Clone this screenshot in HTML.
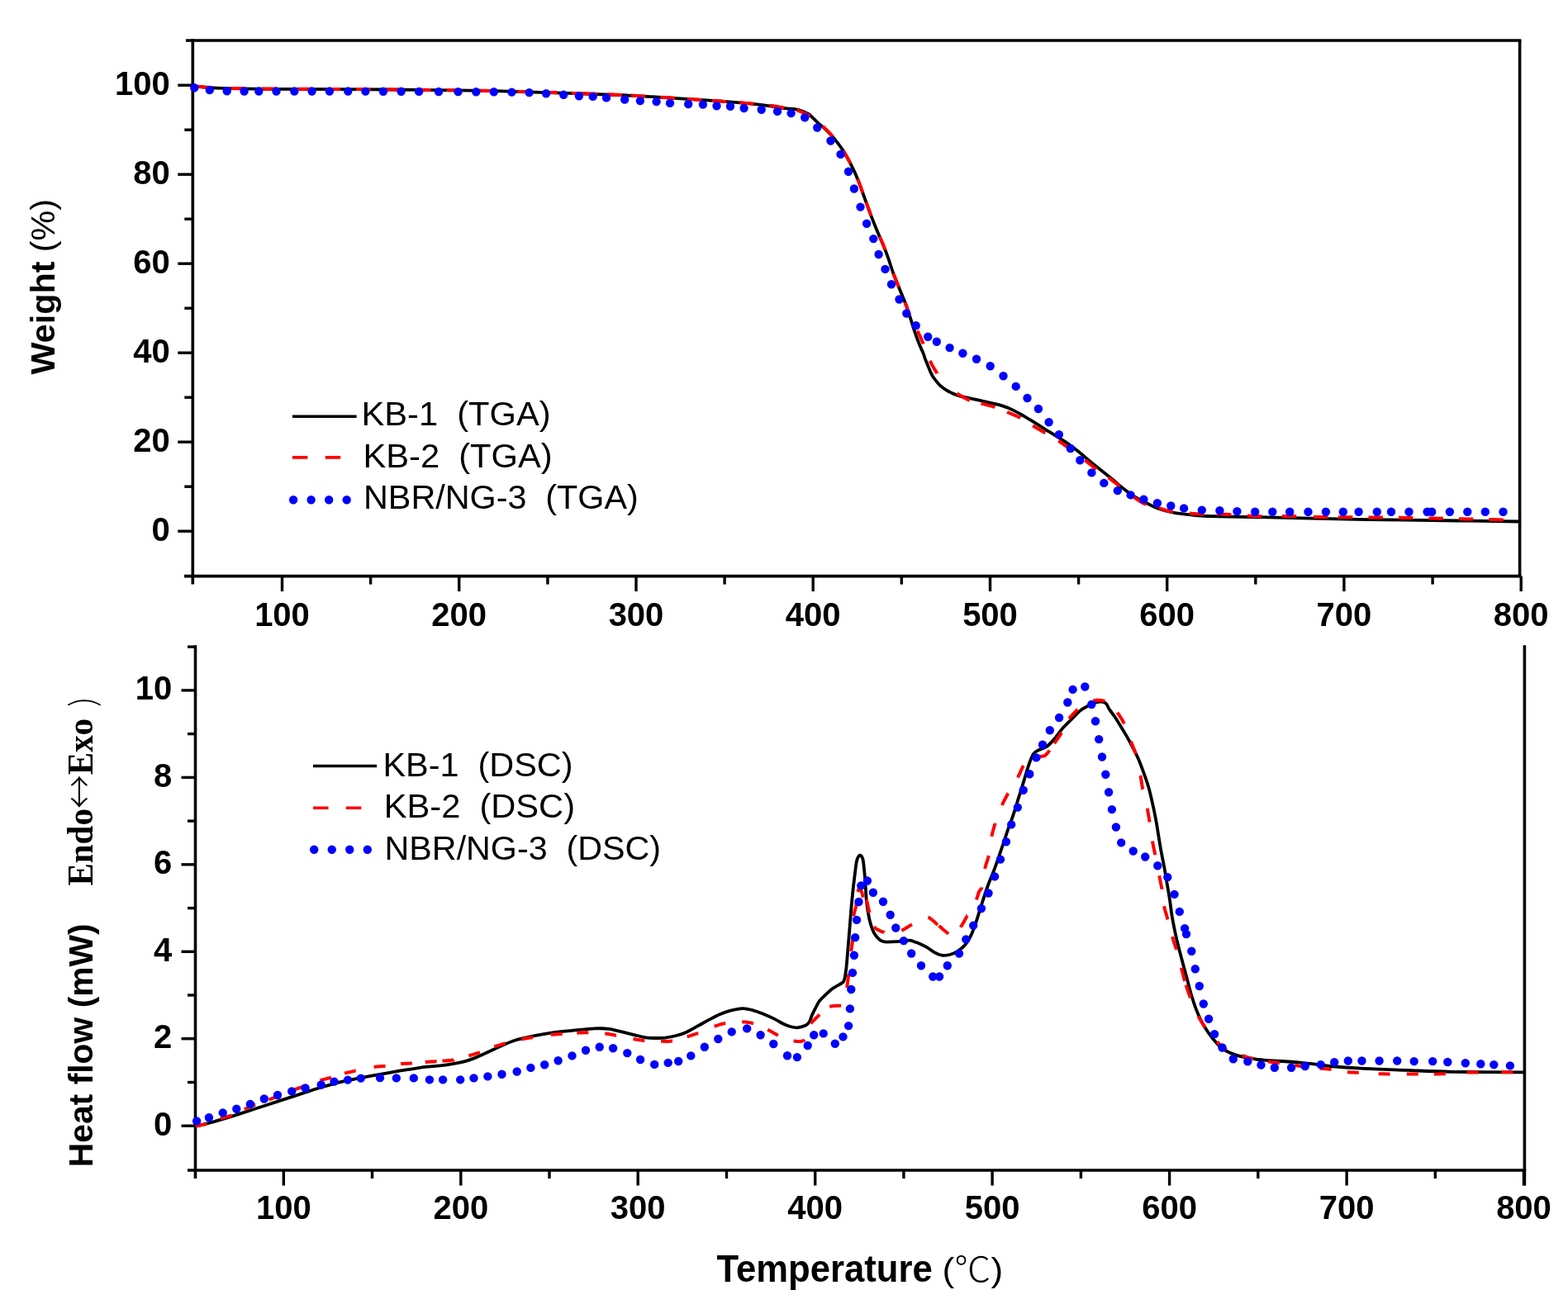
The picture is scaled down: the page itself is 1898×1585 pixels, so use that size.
<!DOCTYPE html>
<html><head><meta charset="utf-8"><title>TGA / DSC</title>
<style>html,body{margin:0;padding:0;background:#fff;}svg{display:block;}</style>
</head><body>
<svg width="1898" height="1585" viewBox="0 0 1898 1585">
<rect width="1898" height="1585" fill="#fff"/>
<line x1="233.3" y1="47.2" x2="233.3" y2="707.6" stroke="#000" stroke-width="3.6"/>
<line x1="225.0" y1="49.0" x2="1841.4" y2="49.0" stroke="#000" stroke-width="3.6"/>
<line x1="1839.6" y1="49.0" x2="1839.6" y2="697.6" stroke="#000" stroke-width="3.6"/>
<line x1="223.0" y1="697.6" x2="1841.4" y2="697.6" stroke="#000" stroke-width="3.6"/>
<line x1="341.5" y1="697.6" x2="341.5" y2="716.1" stroke="#000" stroke-width="3.4"/>
<line x1="555.7" y1="697.6" x2="555.7" y2="716.1" stroke="#000" stroke-width="3.4"/>
<line x1="770.0" y1="697.6" x2="770.0" y2="716.1" stroke="#000" stroke-width="3.4"/>
<line x1="984.2" y1="697.6" x2="984.2" y2="716.1" stroke="#000" stroke-width="3.4"/>
<line x1="1198.5" y1="697.6" x2="1198.5" y2="716.1" stroke="#000" stroke-width="3.4"/>
<line x1="1412.7" y1="697.6" x2="1412.7" y2="716.1" stroke="#000" stroke-width="3.4"/>
<line x1="1626.9" y1="697.6" x2="1626.9" y2="716.1" stroke="#000" stroke-width="3.4"/>
<line x1="1841.2" y1="697.6" x2="1841.2" y2="716.1" stroke="#000" stroke-width="3.4"/>
<line x1="448.6" y1="697.6" x2="448.6" y2="707.6" stroke="#000" stroke-width="3.4"/>
<line x1="662.9" y1="697.6" x2="662.9" y2="707.6" stroke="#000" stroke-width="3.4"/>
<line x1="877.1" y1="697.6" x2="877.1" y2="707.6" stroke="#000" stroke-width="3.4"/>
<line x1="1091.3" y1="697.6" x2="1091.3" y2="707.6" stroke="#000" stroke-width="3.4"/>
<line x1="1305.6" y1="697.6" x2="1305.6" y2="707.6" stroke="#000" stroke-width="3.4"/>
<line x1="1519.8" y1="697.6" x2="1519.8" y2="707.6" stroke="#000" stroke-width="3.4"/>
<line x1="1734.1" y1="697.6" x2="1734.1" y2="707.6" stroke="#000" stroke-width="3.4"/>
<line x1="215.3" y1="643.2" x2="233.3" y2="643.2" stroke="#000" stroke-width="3.4"/>
<line x1="215.3" y1="535.2" x2="233.3" y2="535.2" stroke="#000" stroke-width="3.4"/>
<line x1="215.3" y1="427.2" x2="233.3" y2="427.2" stroke="#000" stroke-width="3.4"/>
<line x1="215.3" y1="319.2" x2="233.3" y2="319.2" stroke="#000" stroke-width="3.4"/>
<line x1="215.3" y1="211.2" x2="233.3" y2="211.2" stroke="#000" stroke-width="3.4"/>
<line x1="215.3" y1="103.2" x2="233.3" y2="103.2" stroke="#000" stroke-width="3.4"/>
<line x1="223.3" y1="589.2" x2="233.3" y2="589.2" stroke="#000" stroke-width="3.4"/>
<line x1="223.3" y1="481.2" x2="233.3" y2="481.2" stroke="#000" stroke-width="3.4"/>
<line x1="223.3" y1="373.2" x2="233.3" y2="373.2" stroke="#000" stroke-width="3.4"/>
<line x1="223.3" y1="265.2" x2="233.3" y2="265.2" stroke="#000" stroke-width="3.4"/>
<line x1="223.3" y1="157.2" x2="233.3" y2="157.2" stroke="#000" stroke-width="3.4"/>
<line x1="236.5" y1="781.2" x2="236.5" y2="1427.0" stroke="#000" stroke-width="3.6"/>
<line x1="1845.4" y1="781.2" x2="1845.4" y2="1435.5" stroke="#000" stroke-width="3.6"/>
<line x1="227.0" y1="1417.0" x2="1847.2" y2="1417.0" stroke="#000" stroke-width="3.6"/>
<line x1="343.3" y1="1417.0" x2="343.3" y2="1435.5" stroke="#000" stroke-width="3.4"/>
<line x1="557.8" y1="1417.0" x2="557.8" y2="1435.5" stroke="#000" stroke-width="3.4"/>
<line x1="772.2" y1="1417.0" x2="772.2" y2="1435.5" stroke="#000" stroke-width="3.4"/>
<line x1="986.7" y1="1417.0" x2="986.7" y2="1435.5" stroke="#000" stroke-width="3.4"/>
<line x1="1201.1" y1="1417.0" x2="1201.1" y2="1435.5" stroke="#000" stroke-width="3.4"/>
<line x1="1415.6" y1="1417.0" x2="1415.6" y2="1435.5" stroke="#000" stroke-width="3.4"/>
<line x1="1630.1" y1="1417.0" x2="1630.1" y2="1435.5" stroke="#000" stroke-width="3.4"/>
<line x1="1844.5" y1="1417.0" x2="1844.5" y2="1435.5" stroke="#000" stroke-width="3.4"/>
<line x1="450.5" y1="1417.0" x2="450.5" y2="1427.0" stroke="#000" stroke-width="3.4"/>
<line x1="665.0" y1="1417.0" x2="665.0" y2="1427.0" stroke="#000" stroke-width="3.4"/>
<line x1="879.5" y1="1417.0" x2="879.5" y2="1427.0" stroke="#000" stroke-width="3.4"/>
<line x1="1093.9" y1="1417.0" x2="1093.9" y2="1427.0" stroke="#000" stroke-width="3.4"/>
<line x1="1308.4" y1="1417.0" x2="1308.4" y2="1427.0" stroke="#000" stroke-width="3.4"/>
<line x1="1522.8" y1="1417.0" x2="1522.8" y2="1427.0" stroke="#000" stroke-width="3.4"/>
<line x1="1737.3" y1="1417.0" x2="1737.3" y2="1427.0" stroke="#000" stroke-width="3.4"/>
<line x1="219.5" y1="1363.2" x2="236.5" y2="1363.2" stroke="#000" stroke-width="3.4"/>
<line x1="219.5" y1="1257.7" x2="236.5" y2="1257.7" stroke="#000" stroke-width="3.4"/>
<line x1="219.5" y1="1152.3" x2="236.5" y2="1152.3" stroke="#000" stroke-width="3.4"/>
<line x1="219.5" y1="1046.8" x2="236.5" y2="1046.8" stroke="#000" stroke-width="3.4"/>
<line x1="219.5" y1="941.4" x2="236.5" y2="941.4" stroke="#000" stroke-width="3.4"/>
<line x1="219.5" y1="835.9" x2="236.5" y2="835.9" stroke="#000" stroke-width="3.4"/>
<line x1="227.0" y1="1310.5" x2="236.5" y2="1310.5" stroke="#000" stroke-width="3.4"/>
<line x1="227.0" y1="1205.0" x2="236.5" y2="1205.0" stroke="#000" stroke-width="3.4"/>
<line x1="227.0" y1="1099.6" x2="236.5" y2="1099.6" stroke="#000" stroke-width="3.4"/>
<line x1="227.0" y1="994.1" x2="236.5" y2="994.1" stroke="#000" stroke-width="3.4"/>
<line x1="227.0" y1="888.6" x2="236.5" y2="888.6" stroke="#000" stroke-width="3.4"/>
<line x1="227.0" y1="783.2" x2="236.5" y2="783.2" stroke="#000" stroke-width="3.4"/>
<path d="M233.5 104.6 C234.3 104.6 232.4 104.4 238.5 104.8 C244.6 105.2 252.4 106.4 270.0 106.9 C287.6 107.4 317.7 107.7 344.0 107.9 C370.3 108.1 397.0 107.9 428.0 108.1 C459.0 108.3 501.3 108.8 530.0 109.1 C558.7 109.4 575.0 109.6 600.0 110.2 C625.0 110.8 655.4 111.8 680.0 112.6 C704.6 113.4 729.2 114.2 747.5 115.0 C765.8 115.8 776.0 116.4 790.0 117.2 C804.0 118.0 815.2 118.8 831.8 119.9 C848.4 121.0 874.4 122.6 889.6 123.8 C904.8 125.0 914.4 126.2 922.8 127.2 C931.2 128.2 935.4 128.9 940.0 129.6 C944.6 130.3 946.5 130.8 950.2 131.2 C953.9 131.6 958.7 131.6 962.1 132.2 C965.5 132.8 968.1 133.5 970.9 134.5 C973.7 135.5 976.7 136.8 978.9 138.2 C981.1 139.6 982.2 141.2 984.2 143.0 C986.2 144.8 988.6 147.3 990.8 149.3 C993.0 151.3 995.2 152.9 997.4 154.9 C999.6 156.9 1002.2 159.6 1004.0 161.4 C1005.8 163.2 1005.4 162.4 1008.0 165.6 C1010.6 168.8 1015.8 175.2 1019.4 180.6 C1023.0 186.0 1026.3 192.1 1029.5 198.2 C1032.7 204.3 1035.6 210.6 1038.3 217.2 C1041.0 223.8 1043.4 231.0 1045.9 237.9 C1048.4 244.8 1051.0 252.2 1053.5 258.8 C1056.0 265.4 1058.3 271.1 1061.0 277.7 C1063.7 284.3 1067.5 292.9 1069.9 298.7 C1072.3 304.5 1073.3 307.1 1075.2 312.6 C1077.1 318.1 1079.2 325.2 1081.5 331.5 C1083.8 337.8 1086.6 344.2 1089.1 350.5 C1091.6 356.8 1094.4 363.1 1096.7 369.4 C1099.0 375.7 1101.4 383.4 1103.0 388.3 C1104.6 393.2 1105.1 395.5 1106.3 399.0 C1107.5 402.5 1108.8 406.2 1110.0 409.5 C1111.2 412.8 1112.5 416.0 1113.7 419.0 C1115.0 422.0 1116.4 424.9 1117.5 427.6 C1118.6 430.3 1119.1 432.6 1120.1 435.1 C1121.0 437.6 1122.2 440.2 1123.2 442.7 C1124.2 445.2 1125.2 447.9 1126.2 450.1 C1127.2 452.3 1128.0 454.0 1129.2 455.9 C1130.4 457.8 1131.9 459.7 1133.4 461.6 C1134.9 463.5 1136.4 465.4 1138.3 467.1 C1140.2 468.8 1142.4 470.4 1144.7 471.9 C1147.0 473.4 1150.1 474.9 1152.3 476.0 C1154.5 477.1 1155.9 477.6 1158.0 478.3 C1160.1 479.0 1160.9 479.4 1165.0 480.4 C1169.1 481.4 1176.7 482.9 1182.5 484.2 C1188.3 485.5 1194.9 486.9 1200.0 488.1 C1205.1 489.3 1208.8 490.0 1213.2 491.4 C1217.6 492.8 1221.9 494.5 1226.3 496.6 C1230.7 498.7 1235.1 501.4 1239.5 503.9 C1243.9 506.4 1248.3 509.1 1252.7 511.8 C1257.1 514.5 1261.5 517.5 1265.9 520.3 C1270.3 523.0 1274.6 525.5 1279.0 528.3 C1283.4 531.0 1287.8 533.7 1292.2 536.8 C1296.6 539.9 1301.0 543.2 1305.4 546.7 C1309.8 550.2 1314.1 554.3 1318.5 557.9 C1322.9 561.5 1327.3 564.9 1331.7 568.4 C1336.1 571.9 1340.5 575.4 1344.9 579.0 C1349.3 582.6 1353.7 586.7 1358.1 590.2 C1362.5 593.7 1366.8 597.1 1371.2 600.0 C1375.6 602.9 1380.0 605.0 1384.4 607.3 C1388.8 609.6 1393.2 612.0 1397.6 613.9 C1402.0 615.8 1406.3 617.3 1410.7 618.5 C1415.1 619.7 1419.5 620.6 1423.9 621.3 C1428.3 622.0 1430.9 622.2 1437.1 622.8 C1443.3 623.4 1443.0 624.4 1461.0 625.0 C1479.0 625.6 1516.8 626.0 1545.0 626.6 C1573.2 627.2 1604.2 628.2 1630.0 628.7 C1655.8 629.2 1665.2 629.1 1700.0 629.6 C1734.8 630.1 1815.8 631.2 1839.0 631.5" fill="none" stroke="#000" stroke-width="3.8" stroke-linecap="butt" stroke-linejoin="round"/>
<path d="M239.3 104.7L240.1 104.7L240.9 104.8L241.7 104.9L242.6 104.9L243.5 105.0L244.5 105.1L245.5 105.2L246.5 105.3L247.6 105.4L248.7 105.5L249.9 105.6L251.2 105.7L252.5 105.8L253.9 105.9L255.4 106.0L256.7 106.1 M279.8 106.9L282.5 107.0L285.3 107.0L288.2 107.1L291.1 107.1L294.2 107.2L297.3 107.2 M317.0 107.5L320.4 107.5L323.8 107.5L327.2 107.6L330.6 107.6L334.0 107.6L334.5 107.6 M360.5 107.8L363.9 107.8L367.2 107.8L370.6 107.8L374.0 107.8L377.4 107.8L378.0 107.8 M394.7 107.9L398.3 107.9L401.9 107.9L405.5 107.9L409.2 107.9L412.2 107.9 M431.2 108.0L431.9 108.0L436.0 108.1L440.1 108.1L444.3 108.1L448.6 108.2L448.7 108.2 M467.7 108.3L470.8 108.4L475.4 108.4L479.9 108.5L484.4 108.5L485.2 108.5 M504.2 108.7L506.3 108.7L510.5 108.8L514.6 108.8L518.7 108.9L521.7 108.9 M540.7 109.1L543.4 109.2L546.5 109.2L549.5 109.2L552.5 109.3L555.3 109.3L558.2 109.4L558.2 109.4 M577.2 109.6L579.8 109.7L582.5 109.7L585.3 109.8L588.1 109.8L591.0 109.9L593.9 110.0L594.7 110.0 M626.4 110.8L629.8 110.9L633.3 111.0L636.7 111.1L640.2 111.2L643.6 111.3L643.9 111.3 M657.3 111.7L660.6 111.8L664.0 111.9L667.3 112.0L670.5 112.1L673.7 112.2L674.8 112.2 M691.8 112.8L694.6 112.9L697.4 112.9L700.1 113.0L702.8 113.1L705.5 113.2L705.5 113.2 M705.5 113.2L708.2 113.3L710.8 113.4L713.5 113.4L716.1 113.5L718.8 113.6L721.5 113.7L723.0 113.8 M735.4 114.3L738.3 114.4L741.3 114.5L744.4 114.7L747.5 114.8L750.7 115.0L752.9 115.1 M764.0 115.6L767.4 115.8L770.9 116.0L774.4 116.2L777.9 116.4L781.4 116.6L781.4 116.6 M799.5 117.7L803.1 117.9L806.7 118.1L810.3 118.3L814.0 118.5L816.9 118.7 M831.8 119.7L835.4 119.9L839.0 120.2L842.7 120.4L846.4 120.7L849.3 120.9 M861.7 121.8L865.6 122.0L869.4 122.3L873.3 122.6L877.0 122.9L879.2 123.0 M895.1 124.2L898.5 124.5L901.7 124.8L904.9 125.0L907.9 125.3L910.7 125.5L912.6 125.7 M931.7 127.7L933.2 127.9L934.6 128.1L936.0 128.3L937.2 128.5L938.5 128.7L939.6 128.8L940.7 129.0L941.8 129.2L942.9 129.4L943.9 129.6L944.9 129.7L945.9 129.9L946.9 130.1L947.9 130.3L949.0 130.4L949.0 130.4 M964.5 133.5L965.1 133.7L965.8 133.9L966.4 134.1L967.1 134.3L967.7 134.6L968.4 134.8L969.0 135.1L969.7 135.3L970.3 135.6L971.0 135.8L971.6 136.1L972.3 136.4L972.9 136.7L973.5 137.0L974.2 137.3L974.8 137.6L975.4 137.9L976.1 138.2L976.7 138.6L977.3 138.9L977.9 139.2L978.5 139.6L979.1 139.9L979.7 140.2L980.3 140.6L980.5 140.7 M995.8 152.7L996.3 153.2L996.8 153.7L997.4 154.2L997.9 154.7L998.4 155.2L998.9 155.7L999.5 156.2L1000.0 156.7L1000.5 157.2L1001.0 157.8L1001.6 158.3L1002.1 158.8L1002.6 159.4L1003.1 159.9L1003.7 160.5L1004.2 161.1L1004.7 161.6L1005.2 162.2L1005.8 162.8L1006.3 163.4L1006.8 164.0L1007.3 164.6L1007.9 165.2L1007.9 165.3 M1020.8 182.5L1021.2 183.2L1021.7 184.0L1022.1 184.7L1022.6 185.4L1023.0 186.1L1023.4 186.9L1023.9 187.6L1024.3 188.3L1024.7 189.0L1025.1 189.8L1025.5 190.5L1025.9 191.2L1026.3 192.0L1026.7 192.7L1027.1 193.5L1027.5 194.2L1027.9 195.0L1028.3 195.7L1028.7 196.5L1029.1 197.2L1029.4 197.8 M1038.3 217.0L1038.6 217.8L1039.0 218.7L1039.3 219.5L1039.6 220.3L1040.0 221.2L1040.3 222.1L1040.6 222.9L1040.9 223.8L1041.2 224.6L1041.6 225.5L1041.9 226.4L1042.2 227.2L1042.5 228.1L1042.8 229.0L1043.1 229.8L1043.4 230.7L1043.7 231.6L1044.0 232.5L1044.3 233.3L1044.4 233.4 M1048.4 244.7L1048.8 245.6L1049.1 246.5L1049.4 247.4L1049.7 248.3L1050.0 249.1L1050.3 250.0L1050.7 250.9L1051.0 251.8L1051.3 252.6L1051.6 253.5L1051.9 254.4L1052.2 255.2L1052.6 256.1L1052.9 256.9L1053.2 257.8L1053.5 258.6L1053.8 259.4L1054.1 260.2L1054.4 261.0L1054.5 261.2 M1064.8 286.5L1065.2 287.4L1065.6 288.3L1066.0 289.2L1066.4 290.1L1066.8 291.1L1067.1 291.9L1067.5 292.8L1067.9 293.7L1068.3 294.6L1068.6 295.4L1069.0 296.2L1069.3 297.0L1069.6 297.8L1069.9 298.5L1070.2 299.2L1070.5 299.9L1070.7 300.5L1071.0 301.2L1071.2 301.8L1071.5 302.4L1071.6 302.6 M1081.5 331.3L1081.8 332.1L1082.1 332.9L1082.4 333.7L1082.7 334.5L1083.0 335.3L1083.3 336.0L1083.6 336.8L1083.9 337.6L1084.3 338.4L1084.6 339.2L1084.9 340.0L1085.2 340.8L1085.5 341.6L1085.9 342.4L1086.2 343.2L1086.5 344.0L1086.8 344.8L1087.2 345.6L1087.5 346.3L1087.8 347.1L1088.0 347.6 M1095.5 366.1L1095.8 366.9L1096.1 367.7L1096.4 368.4L1096.7 369.2L1097.0 370.0L1097.3 370.8L1097.5 371.5L1097.8 372.3L1098.1 373.1L1098.3 373.9L1098.6 374.7L1098.9 375.5L1099.1 376.3L1099.4 377.0L1099.6 377.8L1099.9 378.6L1100.1 379.4L1100.4 380.1L1100.6 380.9L1100.9 381.7L1101.1 382.4L1101.2 382.6 M1110.5 400.5L1110.8 401.1L1111.1 401.7L1111.4 402.3L1111.7 402.9L1112.0 403.5L1112.2 404.0L1112.5 404.6L1112.8 405.2L1113.1 405.8L1113.3 406.4L1113.6 407.0L1113.9 407.7L1114.2 408.3L1114.4 408.9L1114.7 409.5L1115.0 410.2L1115.3 410.8L1115.6 411.5L1115.9 412.2L1116.2 412.9L1116.5 413.6L1116.8 414.3L1117.1 415.0L1117.4 415.8L1117.7 416.5 M1125.8 436.9L1126.1 437.6L1126.5 438.4L1126.8 439.1L1127.2 439.7L1127.5 440.4L1127.9 441.1L1128.2 441.7L1128.5 442.4L1128.9 443.0L1129.2 443.6L1129.5 444.2L1129.9 444.8L1130.2 445.4L1130.6 446.0L1130.9 446.5L1131.2 447.1L1131.6 447.6L1131.9 448.2L1132.3 448.8L1132.6 449.3L1133.0 449.9L1133.3 450.4L1133.6 451.0L1134.0 451.5L1134.4 452.0L1134.4 452.1 M1158.5 476.4L1159.0 476.7L1159.5 477.0L1160.0 477.3L1160.5 477.6L1161.0 477.9L1161.5 478.3L1162.1 478.6L1162.6 478.9L1163.2 479.3L1163.8 479.6L1164.3 480.0L1164.9 480.3L1165.5 480.7L1166.1 481.0L1166.7 481.4L1167.3 481.7L1167.9 482.0L1168.5 482.4L1169.2 482.7L1169.8 483.0L1170.4 483.3L1171.0 483.6L1171.6 483.8L1172.2 484.1L1172.8 484.3L1173.4 484.6L1173.8 484.7 M1187.5 488.5L1188.1 488.7L1188.8 488.9L1189.5 489.0L1190.1 489.2L1190.8 489.4L1191.4 489.5L1192.1 489.7L1192.7 489.8L1193.4 490.0L1194.0 490.2L1194.7 490.3L1195.4 490.5L1196.0 490.6L1196.7 490.8L1197.4 491.0L1198.0 491.2L1198.7 491.3L1199.3 491.5L1200.0 491.7L1200.7 491.9L1201.3 492.1L1202.0 492.3L1202.6 492.5L1203.3 492.7L1204.0 492.9L1204.4 493.1 M1219.1 499.0L1219.7 499.3L1220.4 499.5L1221.0 499.8L1221.7 500.0L1222.3 500.3L1222.9 500.6L1223.6 500.8L1224.2 501.1L1224.8 501.3L1225.4 501.6L1226.1 501.8L1226.7 502.1L1227.3 502.3L1227.9 502.6L1228.6 502.9L1229.2 503.2L1229.8 503.4L1230.5 503.7L1231.1 504.0L1231.7 504.3L1232.4 504.6L1233.0 504.9L1233.7 505.3L1234.3 505.6L1235.0 505.9L1235.1 506.0 M1250.2 515.4L1250.8 515.8L1251.4 516.1L1252.0 516.5L1252.6 516.9L1253.2 517.2L1253.8 517.6L1254.4 517.9L1255.0 518.2L1255.5 518.6L1256.1 518.9L1256.7 519.3L1257.2 519.6L1257.8 519.9L1258.4 520.3L1259.0 520.6L1259.5 520.9L1260.1 521.3L1260.7 521.6L1261.3 522.0L1261.9 522.3L1262.5 522.7L1263.1 523.0L1263.8 523.4L1264.4 523.8L1265.1 524.2L1265.3 524.3 M1281.2 533.8L1281.9 534.2L1282.6 534.7L1283.2 535.1L1283.9 535.6L1284.5 536.0L1285.2 536.5L1285.9 536.9L1286.5 537.4L1287.2 537.9L1287.8 538.3L1288.5 538.8L1289.1 539.3L1289.8 539.7L1290.4 540.2L1291.1 540.7L1291.7 541.1L1292.4 541.6L1293.0 542.1L1293.7 542.6L1294.3 543.1L1295.0 543.5L1295.5 543.9 M1313.3 557.2L1313.9 557.7L1314.5 558.1L1315.1 558.6L1315.6 559.0L1316.2 559.5L1316.8 559.9L1317.3 560.4L1317.8 560.8L1318.4 561.2L1318.9 561.6L1319.4 562.1L1319.9 562.5L1320.4 562.9L1321.0 563.3L1321.5 563.8L1322.0 564.2L1322.5 564.6L1323.1 565.0L1323.6 565.4L1324.1 565.9L1324.7 566.3L1325.2 566.7L1325.8 567.2L1326.4 567.6L1327.0 568.0L1327.0 568.1 M1341.6 578.3L1342.2 578.7L1342.8 579.2L1343.4 579.6L1343.9 580.0L1344.5 580.5L1345.1 580.9L1345.6 581.3L1346.2 581.7L1346.7 582.1L1347.3 582.6L1347.8 583.0L1348.4 583.4L1348.9 583.8L1349.5 584.2L1350.0 584.7L1350.6 585.1L1351.2 585.5L1351.8 586.0L1352.3 586.4L1352.9 586.9L1353.5 587.4L1354.1 587.8L1354.8 588.3L1355.4 588.8L1355.5 588.9 M1372.5 602.0L1373.2 602.5L1373.8 602.9L1374.4 603.3L1375.1 603.8L1375.7 604.2L1376.3 604.6L1376.9 605.0L1377.5 605.4L1378.1 605.8L1378.7 606.2L1379.2 606.6L1379.8 606.9L1380.4 607.3L1381.0 607.7L1381.6 608.0L1382.2 608.4L1382.8 608.7L1383.3 609.0L1383.9 609.3L1384.5 609.6L1385.1 609.9L1385.8 610.2L1386.4 610.5L1387.0 610.8L1387.5 611.0 M1402.8 615.2L1403.4 615.4L1404.1 615.6L1404.7 615.7L1405.3 615.9L1405.9 616.1L1406.5 616.3L1407.2 616.5L1407.8 616.7L1408.4 616.9L1409.0 617.1L1409.6 617.3L1410.2 617.5L1410.8 617.6L1411.4 617.8L1412.0 618.0L1412.6 618.2L1413.2 618.3L1413.8 618.5L1414.4 618.6L1415.0 618.8L1415.6 618.9L1416.1 619.1L1416.7 619.2L1417.3 619.3L1417.9 619.4L1418.4 619.5L1419.0 619.6L1419.5 619.7L1419.7 619.7 M1440.0 621.5L1440.8 621.6L1441.6 621.7L1442.5 621.8L1443.4 621.9L1444.2 621.9L1445.1 622.0L1446.1 622.1L1447.0 622.1L1448.0 622.2L1449.0 622.3L1450.0 622.3L1451.0 622.3L1452.1 622.4L1453.2 622.4L1454.3 622.4L1455.4 622.4L1456.5 622.4L1457.5 622.4 M1472.9 622.4L1474.3 622.4L1475.7 622.5L1477.1 622.5L1478.5 622.5L1480.0 622.6L1481.5 622.7L1483.0 622.7L1484.5 622.8L1486.1 622.9L1487.7 623.0L1489.3 623.1L1490.4 623.2 M1509.8 624.5L1511.5 624.6L1513.2 624.7L1514.9 624.8L1516.6 624.9L1518.3 624.9L1520.0 625.0L1521.7 625.0L1523.3 625.1L1525.0 625.1L1526.7 625.1L1527.3 625.1 M1551.7 625.0L1553.3 625.0L1555.0 625.0L1556.7 625.0L1558.3 625.0L1560.0 625.0L1561.6 625.0L1563.1 625.0L1564.6 625.1L1566.0 625.1L1567.3 625.1L1568.6 625.2L1569.2 625.2 M1589.9 625.8L1592.1 625.9L1594.6 625.9L1597.2 626.0L1600.0 626.0L1603.0 626.0L1606.1 626.1L1607.4 626.1 M1619.9 626.2L1623.6 626.2L1627.4 626.2L1631.4 626.3L1635.4 626.3L1637.4 626.3 M1656.4 626.4L1657.0 626.4L1661.6 626.5L1666.2 626.5L1670.9 626.5L1673.9 626.6 M1692.9 626.8L1695.0 626.8L1700.0 626.9L1705.2 627.0L1710.4 627.1 M1729.4 627.4L1735.3 627.6L1741.9 627.7L1746.9 627.8 M1765.9 628.2L1769.0 628.3L1775.8 628.4L1782.4 628.6L1783.3 628.6 M1802.3 629.0L1807.5 629.1L1813.1 629.2L1818.4 629.4L1819.8 629.4 M1838.8 629.8L1839.0 629.8" fill="none" stroke="#f00" stroke-width="4.0" stroke-linejoin="round"/>
<path d="M235.3 106.3h0 M253.8 109.0h0 M274.7 110.3h0 M295.6 110.5h0 M313.3 110.5h0 M334.5 110.5h0 M356.3 110.5h0 M377.6 110.5h0 M398.9 110.5h0 M421.3 110.5h0 M442.4 110.6h0 M463.9 110.7h0 M485.6 110.8h0 M507.1 110.9h0 M531.0 111.0h0 M554.5 111.1h0 M576.3 111.2h0 M597.8 111.3h0 M619.5 111.6h0 M640.6 112.1h0 M661.1 113.2h0 M682.2 114.8h0 M700.9 116.3h0 M717.7 116.9h0 M734.0 118.4h0 M756.2 120.5h0 M774.9 122.1h0 M794.6 123.1h0 M811.0 124.9h0 M833.2 126.0h0 M850.9 126.6h0 M867.5 128.3h0 M884.0 128.8h0 M900.6 131.0h0 M921.7 132.7h0 M941.0 134.9h0 M957.6 137.1h0 M974.2 142.3h0 M989.2 154.5h0 M1005.5 170.5h0 M1017.5 186.9h0 M1027.0 207.7h0 M1033.9 228.5h0 M1041.5 250.6h0 M1049.1 270.8h0 M1057.3 289.1h0 M1063.6 308.0h0 M1071.5 325.9h0 M1079.0 344.2h0 M1088.5 362.5h0 M1097.3 379.5h0 M1108.7 394.2h0 M1123.2 407.8h0 M1133.8 413.7h0 M1149.6 421.1h0 M1165.4 427.8h0 M1182.0 434.7h0 M1198.7 443.2h0 M1214.5 455.2h0 M1229.7 467.9h0 M1243.5 482.0h0 M1256.9 495.0h0 M1269.6 511.2h0 M1281.9 526.1h0 M1295.8 543.0h0 M1307.3 557.2h0 M1321.4 572.4h0 M1336.3 584.9h0 M1352.8 594.1h0 M1368.6 599.4h0 M1384.4 604.6h0 M1400.9 609.3h0 M1417.3 612.5h0 M1433.1 615.4h0 M1454.8 617.6h0 M1476.4 618.2h0 M1497.4 619.2h0 M1519.2 619.8h0 M1540.3 619.8h0 M1561.2 619.8h0 M1583.5 619.8h0 M1604.9 619.8h0 M1625.8 619.8h0 M1644.6 619.8h0 M1666.8 619.8h0 M1684.0 619.8h0 M1705.5 619.8h0 M1727.6 619.8h0 M1733.2 619.8h0 M1754.9 619.8h0 M1776.3 619.8h0 M1797.8 619.8h0 M1819.5 619.8h0" fill="none" stroke="#00f" stroke-width="10.4" stroke-linecap="round"/>
<path d="M236.5 1363.5 C239.8 1362.8 248.6 1361.1 256.3 1359.0 C264.0 1356.9 273.9 1353.8 282.7 1351.1 C291.5 1348.3 300.2 1345.4 309.0 1342.5 C317.8 1339.6 326.6 1336.8 335.4 1333.9 C344.2 1331.1 352.9 1328.2 361.7 1325.4 C370.5 1322.6 379.3 1319.4 388.1 1316.8 C396.9 1314.2 405.6 1311.7 414.4 1309.6 C423.2 1307.5 431.9 1305.9 440.7 1304.3 C449.5 1302.7 459.5 1301.0 467.1 1299.7 C474.7 1298.4 478.7 1297.5 486.3 1296.2 C493.9 1295.0 503.9 1293.3 512.7 1292.2 C521.5 1291.1 530.2 1290.9 539.0 1289.6 C547.8 1288.3 557.7 1286.5 565.4 1284.3 C573.1 1282.1 578.5 1279.2 585.1 1276.4 C591.7 1273.6 598.3 1270.1 604.9 1267.2 C611.5 1264.3 618.0 1261.4 624.6 1259.3 C631.2 1257.2 636.7 1256.2 644.4 1254.7 C652.1 1253.2 661.9 1251.3 670.7 1250.1 C679.5 1248.9 688.9 1248.2 697.1 1247.4 C705.3 1246.6 713.2 1245.7 719.8 1245.4 C726.4 1245.1 731.4 1245.1 736.9 1245.8 C742.4 1246.5 747.4 1248.2 752.7 1249.4 C758.0 1250.7 763.7 1252.1 768.5 1253.3 C773.3 1254.5 777.5 1255.8 781.7 1256.4 C785.9 1257.0 789.5 1257.0 793.5 1257.0 C797.5 1257.0 801.2 1257.1 805.4 1256.6 C809.6 1256.1 814.1 1255.2 818.5 1254.0 C822.9 1252.8 827.3 1251.4 831.7 1249.4 C836.1 1247.4 840.5 1244.6 844.9 1242.2 C849.3 1239.8 853.7 1237.2 858.1 1234.9 C862.5 1232.6 866.8 1230.2 871.2 1228.3 C875.6 1226.4 879.8 1224.9 884.4 1223.7 C889.0 1222.5 894.5 1221.2 898.9 1221.1 C903.3 1221.0 906.5 1222.0 910.7 1223.1 C914.9 1224.2 919.5 1226.0 923.9 1227.7 C928.3 1229.5 933.1 1231.6 937.1 1233.6 C941.1 1235.6 944.5 1237.9 947.7 1239.5 C950.9 1241.1 953.6 1242.2 956.5 1243.0 C959.4 1243.8 962.3 1244.5 965.3 1244.3 C968.2 1244.1 971.8 1243.2 974.2 1242.1 C976.6 1241.0 978.0 1239.9 979.5 1237.7 C981.0 1235.5 981.7 1231.8 983.0 1228.9 C984.3 1226.0 985.9 1222.9 987.4 1220.1 C988.9 1217.3 989.9 1214.6 991.8 1212.1 C993.7 1209.6 996.2 1207.5 998.9 1205.0 C1001.5 1202.5 1004.8 1199.3 1007.7 1197.1 C1010.6 1194.9 1014.2 1193.3 1016.5 1191.8 C1018.8 1190.3 1020.1 1190.4 1021.2 1188.3 C1022.4 1186.2 1022.8 1183.1 1023.4 1179.4 C1024.0 1175.7 1024.4 1172.7 1025.0 1166.0 C1025.6 1159.3 1026.5 1147.6 1027.2 1139.5 C1027.9 1131.4 1028.4 1124.8 1029.0 1117.4 C1029.6 1110.0 1030.1 1102.7 1030.8 1095.3 C1031.5 1087.9 1032.3 1079.4 1033.0 1073.3 C1033.7 1067.2 1034.1 1063.6 1034.8 1058.4 C1035.5 1053.2 1036.1 1046.0 1037.1 1042.2 C1038.1 1038.4 1039.7 1035.9 1040.9 1035.6 C1042.1 1035.3 1043.5 1036.9 1044.4 1040.2 C1045.3 1043.5 1045.8 1050.3 1046.3 1055.3 C1046.8 1060.3 1047.1 1064.0 1047.5 1070.0 C1047.9 1076.0 1048.2 1084.5 1048.9 1091.0 C1049.6 1097.5 1050.6 1103.8 1051.5 1108.8 C1052.4 1113.8 1053.3 1117.3 1054.5 1120.9 C1055.7 1124.5 1056.8 1127.7 1058.5 1130.5 C1060.2 1133.3 1062.6 1136.1 1064.6 1137.8 C1066.6 1139.5 1067.2 1140.0 1070.7 1140.4 C1074.2 1140.8 1080.8 1140.4 1085.8 1140.1 C1090.8 1139.8 1097.5 1138.6 1100.9 1138.6 C1104.3 1138.6 1103.9 1139.3 1106.0 1140.0 C1108.1 1140.7 1110.6 1141.5 1113.3 1142.7 C1116.0 1143.9 1119.2 1145.4 1122.1 1147.1 C1125.0 1148.8 1128.0 1151.5 1130.9 1153.1 C1133.9 1154.7 1136.7 1156.2 1139.8 1156.7 C1142.9 1157.2 1146.4 1156.7 1149.5 1156.0 C1152.6 1155.3 1155.4 1154.2 1158.3 1152.4 C1161.2 1150.6 1164.4 1148.3 1167.1 1145.4 C1169.8 1142.5 1172.1 1138.6 1174.2 1134.8 C1176.3 1131.0 1178.0 1126.4 1179.5 1122.4 C1181.0 1118.4 1181.9 1115.2 1183.3 1110.9 C1184.7 1106.6 1185.7 1102.9 1187.7 1096.7 C1189.7 1090.5 1192.5 1081.6 1195.2 1074.0 C1197.9 1066.4 1201.4 1058.6 1204.1 1051.3 C1206.8 1044.0 1209.1 1037.2 1211.6 1029.9 C1214.1 1022.6 1216.7 1014.6 1219.2 1007.2 C1221.7 999.9 1224.5 992.7 1226.8 985.8 C1229.1 978.9 1231.0 972.3 1233.1 965.6 C1235.2 958.9 1237.4 952.0 1239.4 945.4 C1241.4 938.8 1243.5 931.5 1245.3 926.2 C1247.1 920.9 1248.6 916.4 1250.5 913.4 C1252.4 910.4 1254.0 910.1 1256.9 908.4 C1259.8 906.7 1264.3 906.0 1267.8 903.4 C1271.3 900.8 1274.7 896.4 1277.9 892.6 C1281.1 888.8 1284.0 884.4 1287.2 880.8 C1290.4 877.1 1293.9 874.1 1297.3 870.7 C1300.7 867.3 1304.3 863.2 1307.4 860.6 C1310.5 858.0 1313.1 856.8 1315.9 855.3 C1318.7 853.8 1321.5 852.2 1324.3 851.3 C1327.1 850.3 1330.3 849.5 1332.7 849.6 C1335.1 849.7 1336.9 850.1 1338.6 851.6 C1340.3 853.1 1341.0 856.1 1342.8 858.9 C1344.6 861.7 1347.1 864.4 1349.6 868.2 C1352.1 872.0 1355.2 877.1 1358.0 881.7 C1360.8 886.4 1363.3 890.3 1366.4 896.1 C1369.5 901.9 1373.8 909.9 1376.8 916.4 C1379.8 922.9 1382.0 929.0 1384.3 935.3 C1386.6 941.6 1388.7 947.5 1390.6 954.2 C1392.5 960.9 1394.2 969.0 1395.7 975.7 C1397.2 982.4 1398.3 988.3 1399.5 994.6 C1400.7 1000.9 1401.5 1007.2 1402.6 1013.5 C1403.6 1019.8 1404.6 1026.1 1405.8 1032.4 C1407.0 1038.7 1408.3 1045.0 1409.5 1051.3 C1410.7 1057.6 1411.6 1064.0 1412.7 1070.3 C1413.8 1076.6 1414.9 1082.8 1415.9 1089.2 C1416.9 1095.6 1417.5 1102.5 1418.6 1108.9 C1419.6 1115.3 1420.9 1121.5 1422.2 1127.8 C1423.5 1134.1 1425.0 1140.5 1426.6 1146.8 C1428.2 1153.1 1429.9 1159.4 1431.6 1165.7 C1433.3 1172.0 1435.0 1178.3 1436.7 1184.6 C1438.4 1190.9 1439.8 1197.2 1441.7 1203.5 C1443.6 1209.8 1445.5 1216.1 1448.0 1222.4 C1450.5 1228.7 1453.4 1235.4 1456.8 1241.3 C1460.2 1247.2 1464.2 1252.8 1468.2 1257.7 C1472.2 1262.6 1476.0 1267.0 1480.8 1270.4 C1485.6 1273.8 1491.3 1276.0 1497.2 1277.9 C1503.1 1279.8 1510.6 1280.8 1516.1 1281.7 C1521.6 1282.7 1520.4 1282.8 1530.0 1283.6 C1539.6 1284.4 1560.4 1285.4 1573.8 1286.6 C1587.2 1287.8 1598.3 1289.8 1610.6 1291.0 C1622.9 1292.2 1632.1 1292.9 1647.5 1293.7 C1662.9 1294.5 1684.3 1295.2 1702.8 1295.9 C1721.2 1296.6 1734.5 1297.4 1758.2 1297.8 C1781.9 1298.2 1830.5 1298.3 1845.0 1298.4" fill="none" stroke="#000" stroke-width="3.8" stroke-linecap="butt" stroke-linejoin="round"/>
<path d="M236.6 1363.6L236.9 1363.5L237.2 1363.5L237.6 1363.4L238.0 1363.4L238.4 1363.3L238.9 1363.2L239.4 1363.1L239.9 1363.0L240.4 1363.0L241.0 1362.9L241.5 1362.8L242.1 1362.7L242.7 1362.5L243.4 1362.4L244.0 1362.3L244.6 1362.2L245.3 1362.0L245.9 1361.9L246.6 1361.8L247.2 1361.6L247.9 1361.4L248.5 1361.3L249.2 1361.1L249.8 1360.9L250.3 1360.7 M266.9 1354.4L267.5 1354.2L268.2 1354.0L268.8 1353.8L269.4 1353.6L270.0 1353.5L270.5 1353.3L271.1 1353.1L271.7 1353.0L272.3 1352.9L272.8 1352.7L273.4 1352.6L273.9 1352.4L274.5 1352.3L275.0 1352.2L275.6 1352.0L276.1 1351.9L276.7 1351.7L277.2 1351.6L277.8 1351.4L278.4 1351.2L278.9 1351.0L279.5 1350.8L280.1 1350.6L280.5 1350.5 M295.9 1343.2L296.5 1342.9L297.1 1342.7L297.6 1342.4L298.2 1342.2L298.7 1341.9L299.2 1341.7L299.8 1341.5L300.3 1341.2L300.8 1341.0L301.3 1340.8L301.9 1340.5L302.4 1340.3L302.9 1340.1L303.4 1339.9L303.9 1339.7L304.5 1339.4L305.0 1339.2L305.5 1339.0L306.1 1338.8L306.6 1338.5L307.2 1338.3L307.8 1338.1L308.4 1337.8L309.0 1337.6L309.1 1337.6 M325.5 1331.6L326.1 1331.4L326.8 1331.1L327.4 1330.9L328.0 1330.6L328.6 1330.4L329.2 1330.1L329.8 1329.9L330.4 1329.6L331.0 1329.4L331.6 1329.1L332.2 1328.9L332.8 1328.6L333.3 1328.4L333.9 1328.1L334.5 1327.9L335.1 1327.6L335.7 1327.4L336.3 1327.1L336.9 1326.9L337.5 1326.6L338.1 1326.4L338.7 1326.1 M356.4 1319.4L357.0 1319.2L357.6 1319.0L358.2 1318.7L358.8 1318.5L359.4 1318.3L359.9 1318.1L360.5 1317.9L361.0 1317.7L361.5 1317.5L362.1 1317.3L362.6 1317.1L363.1 1317.0L363.7 1316.8L364.2 1316.6L364.7 1316.4L365.3 1316.2L365.8 1316.0L366.4 1315.8L367.0 1315.6L367.5 1315.4L368.1 1315.2L368.7 1314.9L369.4 1314.7L369.8 1314.6 M387.4 1308.3L388.0 1308.1L388.7 1307.9L389.3 1307.7L389.9 1307.6L390.5 1307.4L391.1 1307.2L391.6 1307.1L392.2 1306.9L392.8 1306.8L393.3 1306.6L393.9 1306.5L394.4 1306.4L394.9 1306.2L395.5 1306.1L396.0 1306.0L396.6 1305.8L397.1 1305.7L397.7 1305.6L398.3 1305.4L398.8 1305.3L399.4 1305.1L400.0 1304.9L400.6 1304.8L401.0 1304.7 M417.0 1299.7L417.7 1299.5L418.3 1299.4L418.9 1299.2L419.6 1299.0L420.2 1298.9L420.9 1298.7L421.5 1298.6L422.1 1298.4L422.7 1298.3L423.4 1298.1L424.0 1298.0L424.6 1297.9L425.3 1297.7L425.9 1297.6L426.6 1297.4L427.2 1297.3L427.9 1297.1L428.6 1297.0L429.2 1296.9L429.9 1296.7L430.6 1296.6L430.7 1296.6 M452.6 1292.0L453.3 1291.9L454.1 1291.8L454.8 1291.7L455.5 1291.6L456.1 1291.5L456.8 1291.5L457.5 1291.4L458.1 1291.4L458.8 1291.3L459.4 1291.3L460.1 1291.2L460.7 1291.2L461.3 1291.2L462.0 1291.1L462.6 1291.1L463.2 1291.0L463.9 1291.0L464.5 1291.0L465.1 1290.9L465.8 1290.9L466.4 1290.8L466.5 1290.8 M485.0 1288.2L485.6 1288.1L486.3 1288.1L486.9 1288.0L487.5 1288.0L488.1 1287.9L488.8 1287.9L489.4 1287.9L490.0 1287.8L490.6 1287.8L491.2 1287.8L491.7 1287.8L492.3 1287.7L492.9 1287.7L493.5 1287.7L494.1 1287.7L494.7 1287.7L495.3 1287.6L495.9 1287.6L496.5 1287.6L497.1 1287.5L497.7 1287.5L498.3 1287.5L498.9 1287.4L498.9 1287.4 M514.7 1286.0L515.4 1285.9L516.1 1285.9L516.8 1285.9L517.5 1285.8L518.2 1285.8L518.9 1285.7L519.6 1285.7L520.4 1285.6L521.1 1285.6L521.8 1285.6L522.6 1285.5L523.3 1285.5L524.1 1285.4L524.8 1285.4L525.6 1285.4L526.3 1285.3L527.1 1285.3L527.8 1285.2L528.6 1285.2L528.6 1285.2 M535.5 1284.7L536.3 1284.6L537.2 1284.5L538.0 1284.5L538.8 1284.4L539.6 1284.4L540.4 1284.3L541.2 1284.2L542.1 1284.2L542.9 1284.1L543.7 1284.0L544.5 1283.9L545.3 1283.9L546.1 1283.8L546.9 1283.7L547.7 1283.6L548.5 1283.5L549.3 1283.4L549.4 1283.3 M567.4 1278.4L568.0 1278.2L568.7 1278.0L569.3 1277.8L570.0 1277.6L570.6 1277.4L571.2 1277.2L571.8 1277.1L572.5 1276.9L573.1 1276.7L573.7 1276.5L574.3 1276.3L575.0 1276.1L575.6 1275.9L576.2 1275.7L576.8 1275.5L577.4 1275.3L578.1 1275.1L578.7 1274.9L579.3 1274.7L580.0 1274.5L580.6 1274.3L580.9 1274.2 M598.3 1267.4L599.0 1267.2L599.6 1266.9L600.3 1266.7L600.9 1266.5L601.6 1266.3L602.2 1266.1L602.9 1265.9L603.5 1265.7L604.2 1265.5L604.8 1265.3L605.5 1265.1L606.1 1264.9L606.8 1264.7L607.4 1264.5L608.1 1264.3L608.7 1264.1L609.4 1263.9L610.1 1263.7L610.7 1263.5L611.4 1263.3L611.8 1263.2 M631.2 1258.4L631.9 1258.3L632.6 1258.1L633.3 1258.0L634.0 1257.9L634.6 1257.7L635.3 1257.6L636.0 1257.5L636.6 1257.4L637.3 1257.2L638.0 1257.1L638.7 1257.0L639.3 1256.9L640.0 1256.8L640.7 1256.7L641.3 1256.6L642.0 1256.5L642.7 1256.4L643.4 1256.3L644.1 1256.2L644.8 1256.0L645.0 1256.0 M666.8 1252.9L667.5 1252.8L668.2 1252.8L668.9 1252.7L669.6 1252.6L670.3 1252.6L671.0 1252.5L671.6 1252.5L672.3 1252.4L673.0 1252.4L673.6 1252.3L674.3 1252.3L674.9 1252.2L675.5 1252.2L676.2 1252.2L676.8 1252.1L677.5 1252.1L678.1 1252.1L678.7 1252.0L679.4 1252.0L680.0 1252.0L680.6 1251.9L680.7 1251.9 M698.4 1250.7L699.1 1250.7L699.8 1250.6L700.5 1250.6L701.2 1250.6L701.9 1250.5L702.7 1250.5L703.4 1250.5L704.1 1250.4L704.8 1250.4L705.6 1250.4L706.3 1250.3L707.1 1250.3L707.8 1250.3L708.5 1250.3L709.3 1250.2L710.0 1250.2L710.7 1250.2L711.5 1250.2L712.2 1250.2L712.3 1250.2 M732.3 1251.4L733.0 1251.5L733.7 1251.6L734.4 1251.7L735.1 1251.8L735.8 1251.9L736.5 1252.0L737.2 1252.2L738.0 1252.3L738.7 1252.4L739.4 1252.5L740.1 1252.7L740.8 1252.8L741.5 1252.9L742.2 1253.1L743.0 1253.2L743.7 1253.4L744.4 1253.5L745.1 1253.7L745.8 1253.8L746.1 1253.8 M766.5 1258.0L767.2 1258.1L767.9 1258.2L768.5 1258.3L769.2 1258.5L769.8 1258.6L770.5 1258.7L771.1 1258.8L771.8 1258.9L772.4 1259.0L773.1 1259.1L773.7 1259.2L774.4 1259.3L775.0 1259.4L775.6 1259.5L776.3 1259.5L776.9 1259.6L777.6 1259.7L778.2 1259.8L778.9 1259.9L779.6 1259.9L780.2 1260.0L780.3 1260.0 M800.1 1260.8L800.7 1260.8L801.4 1260.8L802.0 1260.8L802.6 1260.8L803.2 1260.9L803.7 1260.9L804.3 1260.9L804.8 1260.9L805.4 1260.9L805.9 1260.9L806.5 1261.0L807.0 1261.0L807.5 1261.0L808.1 1261.0L808.6 1260.9L809.2 1260.9L809.7 1260.9L810.3 1260.9L810.8 1260.8L811.4 1260.8L812.0 1260.7L812.6 1260.6L813.3 1260.5L813.9 1260.4L814.0 1260.4 M831.7 1255.3L832.4 1255.1L833.2 1254.8L833.9 1254.6L834.7 1254.4L835.5 1254.1L836.2 1253.9L837.0 1253.7L837.7 1253.4L838.5 1253.2L839.3 1252.9L840.0 1252.7L840.8 1252.4L841.5 1252.2L842.3 1251.9L843.0 1251.7L843.8 1251.4L844.5 1251.2L845.2 1251.0 M864.6 1242.8L865.2 1242.6L865.9 1242.4L866.5 1242.1L867.2 1241.9L867.8 1241.7L868.5 1241.5L869.1 1241.3L869.8 1241.1L870.4 1240.9L871.1 1240.7L871.7 1240.5L872.4 1240.3L873.0 1240.1L873.7 1240.0L874.4 1239.8L875.0 1239.6L875.7 1239.5L876.4 1239.3L877.1 1239.2L877.7 1239.0L878.2 1238.9 M898.2 1237.3L898.9 1237.3L899.6 1237.4L900.3 1237.4L901.0 1237.5L901.6 1237.5L902.3 1237.6L903.0 1237.6L903.6 1237.7L904.3 1237.8L904.9 1237.9L905.6 1237.9L906.3 1238.0L906.9 1238.1L907.6 1238.3L908.2 1238.4L908.8 1238.5L909.5 1238.6L910.1 1238.8L910.8 1238.9L911.4 1239.1L912.0 1239.2 M929.2 1246.8L929.8 1247.1L930.5 1247.5L931.1 1247.8L931.8 1248.2L932.5 1248.5L933.1 1248.9L933.8 1249.2L934.4 1249.6L935.1 1250.0L935.8 1250.4L936.4 1250.7L937.1 1251.1L937.7 1251.5L938.4 1251.9L939.1 1252.2L939.7 1252.6L940.4 1252.9L941.1 1253.3L941.7 1253.6L941.9 1253.7 M960.5 1260.3L961.0 1260.4L961.5 1260.5L962.0 1260.6L962.5 1260.7L962.9 1260.8L963.4 1260.8L963.8 1260.9L964.3 1260.9L964.7 1261.0L965.1 1261.0L965.5 1261.1L965.9 1261.1L966.3 1261.1L966.6 1261.1L967.0 1261.1L967.4 1261.1L967.7 1261.1L968.0 1261.0L968.4 1261.0L968.7 1261.0L969.0 1261.0L969.4 1260.9L969.7 1260.9L970.0 1260.8L970.3 1260.7L970.6 1260.7L970.9 1260.6L971.2 1260.5L971.4 1260.5L971.7 1260.4L972.0 1260.3L972.2 1260.2L972.5 1260.1L972.7 1260.0L972.9 1259.9L973.1 1259.8L973.4 1259.6L973.6 1259.5L973.8 1259.4L974.0 1259.2L974.1 1259.1 M981.7 1239.5L981.9 1239.2L982.0 1238.9L982.2 1238.7L982.4 1238.4L982.6 1238.2L982.8 1237.9L982.9 1237.7L983.1 1237.4L983.3 1237.2L983.5 1237.0L983.7 1236.8L983.9 1236.6L984.1 1236.4L984.3 1236.1L984.6 1235.9L984.8 1235.7L985.0 1235.5L985.2 1235.3L985.4 1235.1L985.6 1234.9L985.8 1234.7L986.1 1234.5L986.3 1234.2L986.5 1234.0L986.7 1233.8L986.9 1233.5L987.2 1233.3L987.4 1233.1L987.6 1232.9L987.8 1232.6L988.1 1232.4L988.3 1232.2L988.5 1232.0L988.7 1231.7L989.0 1231.5L989.2 1231.3L989.5 1231.1L989.7 1230.8L989.9 1230.6L990.2 1230.4L990.4 1230.1L990.7 1229.9L991.0 1229.7L991.2 1229.4L991.5 1229.2L991.7 1228.9L992.0 1228.7L992.2 1228.5 M1004.2 1218.9L1004.5 1218.8L1004.7 1218.8L1005.0 1218.7L1005.3 1218.6L1005.6 1218.6L1005.9 1218.5L1006.2 1218.5L1006.5 1218.4L1006.8 1218.4L1007.2 1218.3L1007.5 1218.3L1007.9 1218.2L1008.2 1218.2L1008.5 1218.1L1008.9 1218.1L1009.2 1218.1L1009.6 1218.0L1009.9 1218.0L1010.3 1218.0L1010.6 1217.9L1011.0 1217.9L1011.3 1217.9L1011.7 1217.8L1012.0 1217.8L1012.3 1217.8L1012.7 1217.7L1013.0 1217.7L1013.4 1217.7L1013.8 1217.7L1014.1 1217.7L1014.5 1217.7L1014.9 1217.7L1015.2 1217.7L1015.6 1217.7L1016.0 1217.8L1016.3 1217.8L1016.7 1217.8L1017.1 1217.8L1017.4 1217.7L1017.7 1217.7L1018.1 1217.7 M1025.2 1196.0L1025.3 1195.3L1025.4 1194.6L1025.5 1193.9L1025.5 1193.1L1025.6 1192.4L1025.7 1191.7L1025.8 1191.0L1025.9 1190.3L1026.0 1189.6L1026.1 1188.8L1026.2 1188.1L1026.3 1187.3L1026.4 1186.6L1026.5 1185.8L1026.6 1185.1L1026.7 1184.3L1026.8 1183.5L1026.9 1182.7L1027.0 1181.9L1027.1 1181.0L1027.2 1180.2L1027.3 1179.3L1027.3 1179.2 M1030.3 1151.9L1030.4 1151.1L1030.5 1150.3L1030.6 1149.6L1030.7 1148.9L1030.7 1148.3L1030.8 1147.7L1030.9 1147.1L1031.0 1146.6L1031.1 1146.0L1031.1 1145.5L1031.2 1145.0L1031.3 1144.5L1031.4 1144.0L1031.4 1143.5L1031.5 1143.0L1031.6 1142.4L1031.6 1141.9L1031.7 1141.3L1031.8 1140.7L1031.8 1140.0L1031.9 1139.3L1032.0 1138.6L1032.0 1137.8L1032.1 1136.9L1032.2 1136.0L1032.2 1135.1 M1033.4 1109.5L1033.5 1108.7L1033.6 1108.0L1033.7 1107.3L1033.8 1106.6L1033.9 1106.0L1034.0 1105.5L1034.1 1104.9L1034.2 1104.4L1034.3 1104.0L1034.4 1103.5L1034.6 1103.1L1034.7 1102.7L1034.8 1102.2L1034.9 1101.8L1035.1 1101.4L1035.2 1101.0L1035.3 1100.6L1035.4 1100.2L1035.5 1099.7L1035.7 1099.3L1035.8 1098.8L1035.9 1098.3L1036.0 1097.7L1036.1 1097.1L1036.2 1096.5L1036.3 1095.8L1036.4 1095.1L1036.5 1094.4L1036.6 1093.6L1036.7 1093.0 M1038.4 1080.0L1038.5 1079.6L1038.6 1079.2L1038.7 1078.8L1038.8 1078.5L1038.9 1078.2L1039.0 1077.9L1039.0 1077.7L1039.1 1077.5L1039.2 1077.3L1039.3 1077.1L1039.4 1076.9L1039.5 1076.8L1039.6 1076.7L1039.7 1076.6L1039.8 1076.5L1039.9 1076.4L1039.9 1076.4L1040.0 1076.3L1040.1 1076.3L1040.2 1076.2L1040.3 1076.2L1040.4 1076.2L1040.5 1076.2L1040.6 1076.2L1040.7 1076.2L1040.8 1076.2L1040.9 1076.3L1041.0 1076.4L1041.1 1076.4L1041.2 1076.5L1041.3 1076.6L1041.4 1076.8L1041.5 1076.9L1041.6 1077.1L1041.7 1077.2L1041.8 1077.4L1041.9 1077.6L1042.0 1077.8L1042.1 1078.0L1042.2 1078.2L1042.3 1078.4L1042.4 1078.6L1042.5 1078.8L1042.6 1079.1L1042.7 1079.3L1042.8 1079.5L1042.9 1079.8L1043.0 1080.0L1043.1 1080.2L1043.2 1080.5L1043.3 1080.8L1043.4 1081.1L1043.5 1081.4L1043.6 1081.7L1043.6 1082.0L1043.7 1082.4L1043.8 1082.7L1043.9 1083.1L1044.0 1083.4L1044.1 1083.8L1044.2 1084.1L1044.3 1084.5L1044.3 1084.8L1044.4 1085.1L1044.5 1085.5L1044.6 1085.8L1044.7 1086.1L1044.8 1086.4L1044.9 1086.6 M1048.2 1089.3L1048.3 1089.4L1048.5 1089.6L1048.6 1089.8L1048.8 1090.0L1048.9 1090.3L1049.0 1090.6L1049.2 1090.9L1049.3 1091.3L1049.4 1091.7L1049.5 1092.1L1049.6 1092.5L1049.8 1093.0L1049.9 1093.4L1050.0 1093.9L1050.1 1094.4L1050.2 1094.9L1050.3 1095.4L1050.4 1095.9L1050.5 1096.4L1050.6 1096.9L1050.7 1097.4L1050.8 1097.9L1050.9 1098.4L1051.0 1098.9L1051.1 1099.4L1051.2 1099.8L1051.3 1100.2L1051.4 1100.6L1051.5 1101.0L1051.6 1101.3L1051.7 1101.7L1051.7 1102.0L1051.8 1102.3L1051.9 1102.5L1051.9 1102.8L1052.0 1103.0L1052.0 1103.3L1052.1 1103.5L1052.2 1103.7L1052.2 1103.9L1052.3 1104.1L1052.3 1104.4L1052.4 1104.6L1052.4 1104.8L1052.5 1105.1L1052.6 1105.3 M1058.1 1121.8L1058.3 1122.2L1058.6 1122.5L1058.8 1122.9L1059.0 1123.2L1059.3 1123.4L1059.5 1123.7L1059.7 1123.9L1060.0 1124.1L1060.2 1124.4L1060.5 1124.5L1060.7 1124.7L1061.0 1124.9L1061.2 1125.0L1061.5 1125.2L1061.7 1125.3L1062.0 1125.5L1062.2 1125.6L1062.5 1125.7L1062.7 1125.8L1063.0 1126.0L1063.3 1126.1L1063.5 1126.2L1063.8 1126.4L1064.0 1126.5L1064.2 1126.6L1064.5 1126.8L1064.7 1126.9L1065.0 1127.0L1065.2 1127.2L1065.5 1127.3L1065.7 1127.4L1066.0 1127.5L1066.2 1127.6L1066.5 1127.7L1066.7 1127.8L1067.0 1127.9L1067.2 1128.0L1067.5 1128.1L1067.7 1128.1L1068.0 1128.2L1068.2 1128.3L1068.5 1128.4L1068.7 1128.5L1069.0 1128.6L1069.2 1128.6L1069.5 1128.7L1069.7 1128.8L1070.0 1128.9L1070.3 1129.0L1070.4 1129.1 M1091.3 1126.8L1091.6 1126.6L1091.9 1126.5L1092.3 1126.3L1092.6 1126.1L1092.9 1126.0L1093.2 1125.8L1093.5 1125.6L1093.8 1125.5L1094.1 1125.3L1094.4 1125.1L1094.7 1124.9L1095.0 1124.8L1095.3 1124.6L1095.6 1124.4L1095.9 1124.2L1096.2 1124.0L1096.4 1123.9L1096.7 1123.7L1097.0 1123.5L1097.3 1123.3L1097.6 1123.1L1097.9 1123.0L1098.2 1122.8L1098.5 1122.6L1098.8 1122.4L1099.1 1122.2L1099.4 1122.1L1099.7 1121.9L1099.9 1121.7L1100.2 1121.6L1100.5 1121.4L1100.8 1121.2L1101.1 1121.0L1101.4 1120.9L1101.6 1120.7L1101.9 1120.5L1102.2 1120.3L1102.5 1120.2L1102.8 1120.0L1103.1 1119.8L1103.4 1119.6L1103.6 1119.4L1103.8 1119.3 M1123.4 1110.6L1123.9 1110.8L1124.3 1111.0L1124.8 1111.3L1125.3 1111.6L1125.8 1111.9L1126.3 1112.3L1126.8 1112.6L1127.3 1113.1L1127.9 1113.5L1128.4 1113.9L1128.9 1114.4L1129.5 1114.8L1130.0 1115.3L1130.6 1115.8L1131.1 1116.3L1131.7 1116.8L1132.2 1117.3L1132.7 1117.8L1133.3 1118.3L1133.8 1118.8L1134.4 1119.2L1134.9 1119.7L1135.1 1119.8 M1136.5 1121.0L1137.1 1121.5L1137.7 1122.0L1138.2 1122.4L1138.8 1122.9L1139.4 1123.4L1140.0 1123.9L1140.5 1124.4L1141.1 1125.0L1141.7 1125.5L1142.3 1126.0L1142.9 1126.5L1143.5 1127.0L1144.0 1127.4L1144.6 1127.9L1145.1 1128.4L1145.7 1128.8L1146.2 1129.2L1146.7 1129.6L1147.2 1130.0L1147.7 1130.3L1148.1 1130.6 M1162.7 1122.8L1163.0 1122.3L1163.3 1121.8L1163.6 1121.4L1164.0 1120.8L1164.3 1120.3L1164.6 1119.8L1164.9 1119.3L1165.2 1118.7L1165.6 1118.2L1165.9 1117.6L1166.2 1117.1L1166.5 1116.5L1166.9 1115.9L1167.2 1115.4L1167.5 1114.8L1167.8 1114.3L1168.1 1113.7L1168.4 1113.2L1168.7 1112.6L1169.0 1112.1L1169.3 1111.5L1169.6 1111.0L1169.9 1110.5L1170.2 1110.0L1170.5 1109.5L1170.7 1109.0L1170.8 1109.0 M1181.7 1089.4L1181.9 1089.0L1182.1 1088.6L1182.2 1088.2L1182.4 1087.8L1182.5 1087.4L1182.7 1087.0L1182.8 1086.6L1183.0 1086.2L1183.1 1085.8L1183.2 1085.4L1183.3 1085.0L1183.5 1084.6L1183.6 1084.1L1183.7 1083.8L1183.8 1083.4L1183.9 1083.0L1184.1 1082.6L1184.2 1082.2L1184.3 1081.8L1184.4 1081.4L1184.6 1081.1L1184.7 1080.7L1184.9 1080.3L1185.0 1080.0L1185.2 1079.7L1185.3 1079.4L1185.5 1079.1L1185.6 1078.8L1185.8 1078.6L1185.9 1078.4L1186.1 1078.1L1186.3 1077.9L1186.4 1077.7L1186.6 1077.5L1186.8 1077.3L1187.0 1077.1L1187.1 1076.9L1187.3 1076.7L1187.5 1076.4L1187.6 1076.1L1187.8 1075.8L1188.0 1075.5L1188.1 1075.2L1188.3 1074.8L1188.3 1074.6 M1192.1 1052.0L1192.3 1051.2L1192.5 1050.5L1192.7 1049.7L1192.9 1049.0L1193.1 1048.3L1193.3 1047.6L1193.5 1046.9L1193.7 1046.2L1193.9 1045.5L1194.1 1044.9L1194.4 1044.2L1194.6 1043.5L1194.8 1042.9L1195.1 1042.2L1195.3 1041.5L1195.5 1040.8L1195.7 1040.1L1195.9 1039.4L1196.1 1038.7L1196.3 1038.0L1196.5 1037.2L1196.7 1036.5L1196.8 1036.0 M1200.3 1012.9L1200.5 1012.0L1200.7 1011.2L1200.9 1010.3L1201.1 1009.5L1201.3 1008.6L1201.5 1007.8L1201.7 1007.0L1201.9 1006.1L1202.2 1005.3L1202.4 1004.5L1202.6 1003.7L1202.9 1002.9L1203.1 1002.1L1203.3 1001.3L1203.6 1000.4L1203.8 999.6L1204.1 998.8L1204.3 998.1L1204.6 997.3L1204.7 996.8 M1212.9 975.0L1213.2 974.3L1213.6 973.5L1213.9 972.8L1214.2 972.1L1214.6 971.4L1214.9 970.6L1215.3 969.9L1215.7 969.2L1216.0 968.5L1216.4 967.8L1216.7 967.1L1217.1 966.4L1217.5 965.7L1217.9 965.0L1218.2 964.3L1218.6 963.6L1219.0 962.9L1219.4 962.2L1219.8 961.5L1220.1 960.8L1220.3 960.6 M1231.8 941.6L1232.2 940.9L1232.5 940.3L1232.9 939.6L1233.2 938.9L1233.5 938.2L1233.9 937.6L1234.2 936.9L1234.5 936.2L1234.8 935.5L1235.1 934.8L1235.4 934.2L1235.7 933.5L1236.0 932.8L1236.3 932.2L1236.6 931.6L1236.9 930.9L1237.2 930.3L1237.5 929.7L1237.8 929.1L1238.1 928.6L1238.4 928.0L1238.7 927.5L1239.0 927.1 M1258.7 916.2L1259.1 916.1L1259.5 916.0L1259.9 915.9L1260.2 915.8L1260.5 915.8L1260.8 915.7L1261.1 915.7L1261.4 915.7L1261.7 915.7L1261.9 915.6L1262.2 915.6L1262.4 915.6L1262.7 915.6L1262.9 915.6L1263.1 915.5L1263.3 915.5L1263.6 915.4L1263.8 915.4L1264.1 915.3L1264.3 915.1L1264.6 915.0L1264.9 914.8L1265.1 914.6L1265.4 914.4L1265.8 914.1L1266.1 913.8L1266.5 913.5L1266.8 913.1L1267.2 912.7L1267.6 912.2L1268.0 911.7L1268.4 911.2L1268.8 910.7L1269.2 910.2L1269.6 909.6L1270.1 909.0L1270.4 908.5 M1276.2 900.2L1276.6 899.6L1277.1 899.0L1277.5 898.4L1277.9 897.8L1278.4 897.1L1278.8 896.5L1279.2 895.9L1279.7 895.2L1280.1 894.6L1280.6 894.0L1281.0 893.3L1281.5 892.7L1281.9 892.0L1282.3 891.4L1282.8 890.7L1283.2 890.1L1283.6 889.4L1284.0 888.8L1284.4 888.2L1284.8 887.5L1285.1 887.1 M1294.0 870.3L1294.5 869.7L1294.9 869.1L1295.4 868.5L1296.0 867.8L1296.5 867.2L1297.1 866.6L1297.7 865.9L1298.3 865.3L1298.9 864.6L1299.5 864.0L1300.1 863.4L1300.7 862.7L1301.3 862.1L1301.9 861.5L1302.5 860.9L1303.1 860.3L1303.7 859.8L1304.3 859.2L1304.5 859.1 M1323.5 848.4L1323.8 848.3L1324.2 848.3L1324.5 848.2L1324.8 848.1L1325.1 848.1L1325.4 848.0L1325.8 848.0L1326.1 847.9L1326.4 847.9L1326.7 847.9L1327.0 847.8L1327.3 847.8L1327.6 847.8L1327.9 847.8L1328.2 847.7L1328.5 847.7L1328.8 847.7L1329.1 847.7L1329.4 847.7L1329.8 847.7L1330.1 847.7L1330.4 847.8L1330.7 847.8L1331.0 847.8L1331.3 847.8L1331.6 847.9L1331.9 847.9L1332.3 847.9L1332.6 848.0L1332.9 848.0L1333.2 848.1L1333.6 848.1L1333.9 848.2L1334.2 848.2L1334.5 848.3L1334.8 848.4L1335.2 848.4L1335.5 848.5L1335.8 848.6L1336.1 848.7L1336.4 848.8L1336.7 848.9L1337.1 849.0L1337.3 849.1 M1352.5 862.7L1352.8 863.2L1353.2 863.7L1353.5 864.2L1353.9 864.7L1354.3 865.2L1354.6 865.8L1355.0 866.3L1355.4 866.9L1355.8 867.5L1356.1 868.1L1356.5 868.7L1356.9 869.3L1357.3 869.9L1357.7 870.5L1358.1 871.2L1358.5 871.8L1358.8 872.5L1359.2 873.2L1359.6 873.9L1360.0 874.6L1360.3 875.3L1360.7 876.0L1360.9 876.3 M1369.0 897.7L1369.3 898.5L1369.6 899.3L1369.9 900.2L1370.2 901.0L1370.6 901.8L1370.9 902.6L1371.2 903.3L1371.5 904.1L1371.8 904.9L1372.1 905.7L1372.4 906.5L1372.8 907.3L1373.1 908.1L1373.4 908.9L1373.7 909.7L1374.0 910.5L1374.2 911.3L1374.5 912.1L1374.8 912.9L1374.9 913.1 M1380.5 939.1L1380.7 939.9L1380.8 940.8L1380.9 941.6L1381.1 942.4L1381.2 943.2L1381.3 944.0L1381.5 944.8L1381.6 945.6L1381.7 946.3L1381.8 947.1L1381.9 947.9L1382.1 948.6L1382.2 949.4L1382.3 950.1L1382.4 950.9L1382.5 951.7L1382.7 952.4L1382.8 953.2L1382.9 954.0L1383.1 954.8L1383.2 955.6L1383.3 955.8 M1388.7 978.8L1388.9 979.6L1389.0 980.4L1389.2 981.2L1389.3 982.0L1389.5 982.8L1389.6 983.6L1389.8 984.4L1389.9 985.2L1390.0 985.9L1390.2 986.7L1390.3 987.5L1390.4 988.2L1390.5 989.0L1390.7 989.8L1390.8 990.5L1390.9 991.3L1391.0 992.1L1391.1 992.9L1391.3 993.7L1391.4 994.5L1391.5 995.3L1391.5 995.4 M1395.0 1018.6L1395.1 1019.4L1395.3 1020.2L1395.4 1021.0L1395.6 1021.8L1395.7 1022.6L1395.9 1023.4L1396.0 1024.1L1396.2 1024.9L1396.3 1025.7L1396.5 1026.4L1396.7 1027.2L1396.8 1027.9L1397.0 1028.7L1397.1 1029.5L1397.3 1030.2L1397.5 1031.0L1397.6 1031.8L1397.8 1032.6L1398.0 1033.3L1398.1 1034.2L1398.3 1035.0L1398.3 1035.1 M1403.2 1060.2L1403.4 1061.0L1403.5 1061.8L1403.7 1062.5L1403.8 1063.3L1404.0 1064.0L1404.1 1064.7L1404.2 1065.3L1404.4 1066.0L1404.5 1066.7L1404.7 1067.3L1404.8 1067.9L1404.9 1068.6L1405.0 1069.2L1405.2 1069.8L1405.3 1070.5L1405.4 1071.1L1405.6 1071.8L1405.7 1072.4L1405.8 1073.1L1405.9 1073.7L1406.0 1074.4L1406.2 1075.1L1406.3 1075.9L1406.4 1076.6L1406.4 1076.7 M1409.0 1097.2L1409.2 1097.9L1409.3 1098.6L1409.5 1099.2L1409.6 1099.8L1409.8 1100.4L1409.9 1101.0L1410.1 1101.6L1410.2 1102.1L1410.4 1102.7L1410.6 1103.3L1410.7 1103.8L1410.9 1104.4L1411.1 1105.0L1411.3 1105.5L1411.4 1106.1L1411.6 1106.7L1411.8 1107.3L1412.0 1108.0L1412.2 1108.6L1412.4 1109.3L1412.6 1110.0L1412.8 1110.7L1413.0 1111.5L1413.2 1112.3L1413.4 1113.1L1413.5 1113.3 M1419.0 1134.2L1419.3 1135.1L1419.6 1136.0L1419.8 1137.0L1420.1 1137.9L1420.4 1138.8L1420.7 1139.8L1421.0 1140.7L1421.3 1141.7L1421.7 1142.6L1422.0 1143.5L1422.3 1144.4L1422.6 1145.4L1422.9 1146.3L1423.2 1147.2L1423.5 1148.1L1423.8 1149.0L1424.1 1149.8L1424.1 1150.0 M1429.9 1171.8L1430.1 1172.6L1430.3 1173.4L1430.5 1174.3L1430.8 1175.1L1431.0 1176.0L1431.2 1176.9L1431.4 1177.8L1431.7 1178.8L1431.9 1179.7L1432.2 1180.6L1432.4 1181.6L1432.7 1182.5L1432.9 1183.5L1433.2 1184.4L1433.4 1185.4L1433.7 1186.3L1433.9 1187.2L1434.1 1188.0 M1435.5 1192.6L1435.8 1193.4L1436.0 1194.3L1436.3 1195.1L1436.6 1195.9L1436.8 1196.7L1437.1 1197.5L1437.4 1198.3L1437.6 1199.1L1437.9 1199.9L1438.2 1200.7L1438.5 1201.5L1438.7 1202.3L1439.0 1203.0L1439.3 1203.8L1439.6 1204.6L1439.9 1205.4L1440.2 1206.1L1440.5 1206.9L1440.8 1207.7L1441.0 1208.2 M1450.5 1230.5L1450.9 1231.2L1451.3 1232.0L1451.7 1232.7L1452.1 1233.5L1452.6 1234.2L1453.0 1235.0L1453.4 1235.7L1453.9 1236.5L1454.3 1237.2L1454.8 1237.9L1455.2 1238.6L1455.7 1239.4L1456.1 1240.1L1456.6 1240.8L1457.1 1241.5L1457.5 1242.2L1458.0 1242.9L1458.5 1243.6L1458.8 1244.1 M1473.2 1261.5L1473.7 1262.0L1474.2 1262.5L1474.8 1263.0L1475.3 1263.5L1475.8 1264.0L1476.3 1264.5L1476.9 1265.0L1477.4 1265.5L1477.9 1266.0L1478.4 1266.5L1479.0 1266.9L1479.5 1267.4L1480.1 1267.9L1480.6 1268.3L1481.2 1268.8L1481.7 1269.2L1482.3 1269.6L1482.9 1270.0L1483.5 1270.4L1484.0 1270.8L1484.6 1271.2 M1503.7 1278.1L1504.3 1278.3L1505.0 1278.5L1505.6 1278.7L1506.1 1278.9L1506.7 1279.1L1507.3 1279.3L1507.8 1279.4L1508.4 1279.6L1508.9 1279.8L1509.5 1280.0L1510.0 1280.1L1510.5 1280.3L1511.1 1280.5L1511.6 1280.6L1512.1 1280.8L1512.7 1281.0L1513.2 1281.1L1513.8 1281.3L1514.4 1281.4L1514.9 1281.6L1515.5 1281.7L1516.1 1281.9L1516.8 1282.0L1517.2 1282.2 M1535.0 1285.4L1535.6 1285.5L1536.3 1285.6L1536.9 1285.7L1537.5 1285.8L1538.1 1285.9L1538.6 1286.0L1539.2 1286.0L1539.7 1286.1L1540.3 1286.2L1540.8 1286.3L1541.4 1286.3L1541.9 1286.4L1542.4 1286.5L1543.0 1286.5L1543.5 1286.6L1544.1 1286.7L1544.6 1286.7L1545.2 1286.8L1545.8 1286.9L1546.4 1287.0L1547.0 1287.0L1547.6 1287.1L1548.2 1287.2L1548.9 1287.3 M1567.3 1289.8L1567.9 1289.9L1568.5 1290.0L1569.1 1290.1L1569.7 1290.2L1570.2 1290.3L1570.8 1290.4L1571.3 1290.5L1571.8 1290.6L1572.3 1290.7L1572.7 1290.8L1573.2 1290.9L1573.7 1291.0L1574.2 1291.0L1574.6 1291.1L1575.1 1291.2L1575.6 1291.3L1576.1 1291.4L1576.6 1291.5L1577.1 1291.6L1577.7 1291.7L1578.2 1291.8L1578.8 1291.8L1579.4 1291.9L1580.0 1292.0L1580.6 1292.1L1581.1 1292.1 M1597.7 1293.7L1598.3 1293.8L1599.0 1293.8L1599.6 1293.9L1600.2 1293.9L1600.8 1293.9L1601.3 1294.0L1601.9 1294.0L1602.4 1294.1L1603.0 1294.1L1603.5 1294.1L1604.0 1294.2L1604.5 1294.2L1605.1 1294.2L1605.6 1294.3L1606.2 1294.3L1606.7 1294.4L1607.3 1294.4L1607.8 1294.5L1608.4 1294.5L1609.0 1294.6L1609.6 1294.7L1610.3 1294.7L1610.9 1294.8L1611.6 1294.9L1611.6 1294.9 M1630.9 1298.1L1631.6 1298.2L1632.4 1298.2L1633.1 1298.3L1633.8 1298.4L1634.5 1298.4L1635.1 1298.5L1635.8 1298.5L1636.5 1298.5L1637.1 1298.6L1637.8 1298.6L1638.4 1298.6L1639.1 1298.6L1639.7 1298.6L1640.4 1298.7L1641.1 1298.7L1641.7 1298.7L1642.4 1298.7L1643.1 1298.7L1643.8 1298.7L1644.5 1298.8L1644.8 1298.8 M1668.7 1300.2L1669.9 1300.2L1671.0 1300.3L1672.2 1300.3L1673.4 1300.3L1674.7 1300.3L1675.9 1300.3L1677.2 1300.4L1678.5 1300.4L1679.8 1300.4L1681.2 1300.4L1682.5 1300.4L1682.6 1300.4 M1702.8 1300.4L1704.6 1300.4L1706.5 1300.4L1708.5 1300.4L1710.6 1300.4L1712.8 1300.4L1715.0 1300.4L1716.7 1300.4 M1735.8 1300.4L1738.1 1300.4L1740.3 1300.4L1742.4 1300.4L1744.5 1300.3L1746.5 1300.3L1748.4 1300.3L1749.8 1300.3 M1775.7 1298.6L1777.7 1298.6L1779.9 1298.5L1782.4 1298.5L1785.1 1298.5L1787.9 1298.4L1789.6 1298.4 M1817.4 1298.3L1820.7 1298.3L1823.9 1298.3L1826.9 1298.3L1829.8 1298.3L1831.4 1298.3" fill="none" stroke="#f00" stroke-width="4.0" stroke-linejoin="round"/>
<path d="M238.1 1357.4h0 M252.9 1353.2h0 M269.7 1347.4h0 M286.3 1342.7h0 M302.9 1336.9h0 M319.8 1330.5h0 M336.0 1326.0h0 M353.2 1321.4h0 M369.6 1317.5h0 M388.7 1313.5h0 M404.5 1309.6h0 M421.0 1307.6h0 M436.8 1305.6h0 M460.0 1305.1h0 M479.8 1305.4h0 M500.8 1305.4h0 M519.9 1307.4h0 M536.1 1307.4h0 M557.2 1307.4h0 M573.5 1305.4h0 M590.4 1303.4h0 M607.5 1300.8h0 M625.7 1297.5h0 M642.4 1292.9h0 M659.2 1289.3h0 M675.6 1284.3h0 M692.5 1278.4h0 M709.0 1271.8h0 M725.7 1267.8h0 M742.1 1269.2h0 M759.3 1275.1h0 M775.1 1283.0h0 M792.2 1288.9h0 M808.7 1286.9h0 M821.2 1285.0h0 M836.3 1278.4h0 M852.8 1267.8h0 M869.3 1258.0h0 M885.7 1249.4h0 M904.2 1245.4h0 M920.6 1253.3h0 M936.3 1264.0h0 M953.0 1278.3h0 M964.9 1280.1h0 M977.7 1266.0h0 M985.2 1253.2h0 M996.7 1251.4h0 M1010.8 1263.8h0 M1020.5 1255.4h0 M1027.1 1242.1h0 M1028.9 1221.4h0 M1030.3 1198.0h0 M1032.0 1177.9h0 M1033.9 1156.7h0 M1035.2 1135.1h0 M1037.0 1113.9h0 M1039.5 1092.0h0 M1042.3 1072.4h0 M1049.9 1066.5h0 M1056.9 1080.7h0 M1069.0 1091.7h0 M1077.7 1107.8h0 M1084.3 1123.5h0 M1093.9 1139.1h0 M1103.2 1154.5h0 M1115.0 1169.2h0 M1129.2 1182.5h0 M1137.1 1182.5h0 M1146.8 1169.2h0 M1161.0 1154.6h0 M1169.3 1137.4h0 M1178.2 1120.6h0 M1187.9 1100.0h0 M1196.5 1081.5h0 M1204.1 1061.4h0 M1211.0 1040.6h0 M1217.9 1019.2h0 M1224.2 998.4h0 M1231.8 977.6h0 M1238.7 956.8h0 M1246.3 937.2h0 M1254.4 917.4h0 M1262.0 901.7h0 M1270.8 884.2h0 M1282.1 869.0h0 M1292.3 850.5h0 M1298.6 834.9h0 M1313.3 831.5h0 M1321.3 853.0h0 M1326.0 873.2h0 M1330.2 895.1h0 M1334.0 916.5h0 M1338.3 937.8h0 M1342.1 959.3h0 M1345.9 980.1h0 M1350.9 1001.5h0 M1357.2 1020.4h0 M1371.7 1030.5h0 M1386.2 1037.5h0 M1401.3 1048.2h0 M1413.3 1062.1h0 M1421.5 1082.9h0 M1427.8 1103.9h0 M1434.1 1124.1h0 M1436.0 1131.0h0 M1442.3 1151.8h0 M1446.8 1173.2h0 M1451.8 1194.0h0 M1456.8 1215.5h0 M1463.1 1233.8h0 M1470.1 1252.1h0 M1479.5 1268.5h0 M1492.8 1282.3h0 M1510.3 1285.2h0 M1526.5 1289.5h0 M1542.8 1292.8h0 M1563.1 1292.8h0 M1579.8 1291.0h0 M1598.7 1289.1h0 M1615.2 1286.3h0 M1631.8 1284.5h0 M1648.5 1284.5h0 M1669.6 1284.5h0 M1691.2 1284.5h0 M1711.7 1285.1h0 M1734.2 1285.1h0 M1752.3 1286.0h0 M1773.8 1287.3h0 M1792.3 1288.2h0 M1808.3 1289.1h0 M1827.9 1290.4h0" fill="none" stroke="#00f" stroke-width="10.4" stroke-linecap="round"/>
<text x="341.5" y="757.6" font-family="'Liberation Sans', Arial, sans-serif" font-size="40.0" font-weight="bold" text-anchor="middle">100</text>
<text x="555.7" y="757.6" font-family="'Liberation Sans', Arial, sans-serif" font-size="40.0" font-weight="bold" text-anchor="middle">200</text>
<text x="770.0" y="757.6" font-family="'Liberation Sans', Arial, sans-serif" font-size="40.0" font-weight="bold" text-anchor="middle">300</text>
<text x="984.2" y="757.6" font-family="'Liberation Sans', Arial, sans-serif" font-size="40.0" font-weight="bold" text-anchor="middle">400</text>
<text x="1198.5" y="757.6" font-family="'Liberation Sans', Arial, sans-serif" font-size="40.0" font-weight="bold" text-anchor="middle">500</text>
<text x="1412.7" y="757.6" font-family="'Liberation Sans', Arial, sans-serif" font-size="40.0" font-weight="bold" text-anchor="middle">600</text>
<text x="1626.9" y="757.6" font-family="'Liberation Sans', Arial, sans-serif" font-size="40.0" font-weight="bold" text-anchor="middle">700</text>
<text x="1841.2" y="757.6" font-family="'Liberation Sans', Arial, sans-serif" font-size="40.0" font-weight="bold" text-anchor="middle">800</text>
<text x="205.8" y="655.3" font-family="'Liberation Sans', Arial, sans-serif" font-size="40.0" font-weight="bold" text-anchor="end">0</text>
<text x="205.8" y="547.3" font-family="'Liberation Sans', Arial, sans-serif" font-size="40.0" font-weight="bold" text-anchor="end">20</text>
<text x="205.8" y="439.3" font-family="'Liberation Sans', Arial, sans-serif" font-size="40.0" font-weight="bold" text-anchor="end">40</text>
<text x="205.8" y="331.3" font-family="'Liberation Sans', Arial, sans-serif" font-size="40.0" font-weight="bold" text-anchor="end">60</text>
<text x="205.8" y="223.3" font-family="'Liberation Sans', Arial, sans-serif" font-size="40.0" font-weight="bold" text-anchor="end">80</text>
<text x="205.8" y="115.3" font-family="'Liberation Sans', Arial, sans-serif" font-size="40.0" font-weight="bold" text-anchor="end">100</text>
<text x="343.3" y="1475.6" font-family="'Liberation Sans', Arial, sans-serif" font-size="40.0" font-weight="bold" text-anchor="middle">100</text>
<text x="557.8" y="1475.6" font-family="'Liberation Sans', Arial, sans-serif" font-size="40.0" font-weight="bold" text-anchor="middle">200</text>
<text x="772.2" y="1475.6" font-family="'Liberation Sans', Arial, sans-serif" font-size="40.0" font-weight="bold" text-anchor="middle">300</text>
<text x="986.7" y="1475.6" font-family="'Liberation Sans', Arial, sans-serif" font-size="40.0" font-weight="bold" text-anchor="middle">400</text>
<text x="1201.1" y="1475.6" font-family="'Liberation Sans', Arial, sans-serif" font-size="40.0" font-weight="bold" text-anchor="middle">500</text>
<text x="1415.6" y="1475.6" font-family="'Liberation Sans', Arial, sans-serif" font-size="40.0" font-weight="bold" text-anchor="middle">600</text>
<text x="1630.1" y="1475.6" font-family="'Liberation Sans', Arial, sans-serif" font-size="40.0" font-weight="bold" text-anchor="middle">700</text>
<text x="1844.5" y="1475.6" font-family="'Liberation Sans', Arial, sans-serif" font-size="40.0" font-weight="bold" text-anchor="middle">800</text>
<text x="208.3" y="1374.6" font-family="'Liberation Sans', Arial, sans-serif" font-size="40.0" font-weight="bold" text-anchor="end">0</text>
<text x="208.3" y="1269.1" font-family="'Liberation Sans', Arial, sans-serif" font-size="40.0" font-weight="bold" text-anchor="end">2</text>
<text x="208.3" y="1163.7" font-family="'Liberation Sans', Arial, sans-serif" font-size="40.0" font-weight="bold" text-anchor="end">4</text>
<text x="208.3" y="1058.2" font-family="'Liberation Sans', Arial, sans-serif" font-size="40.0" font-weight="bold" text-anchor="end">6</text>
<text x="208.3" y="952.8" font-family="'Liberation Sans', Arial, sans-serif" font-size="40.0" font-weight="bold" text-anchor="end">8</text>
<text x="208.3" y="847.3" font-family="'Liberation Sans', Arial, sans-serif" font-size="40.0" font-weight="bold" text-anchor="end">10</text>
<line x1="353.9" y1="504.3" x2="431.6" y2="504.3" stroke="#000" stroke-width="3.6"/>
<line x1="353.9" y1="553.9" x2="414.9" y2="553.9" stroke="#f00" stroke-width="3.6" stroke-dasharray="18.5 21.3"/>
<path d="M355.1 605.2H420.2" stroke="#00f" stroke-width="10.4" stroke-linecap="round" stroke-dasharray="0 21.53" fill="none"/>
<text x="437.5" y="514.5" font-family="'Liberation Sans', Arial, sans-serif" font-size="40" xml:space="preserve" textLength="229.1" lengthAdjust="spacingAndGlyphs">KB-1  (TGA)</text>
<text x="439.5" y="565.9" font-family="'Liberation Sans', Arial, sans-serif" font-size="40" xml:space="preserve" textLength="229.1" lengthAdjust="spacingAndGlyphs">KB-2  (TGA)</text>
<text x="440.0" y="616.3" font-family="'Liberation Sans', Arial, sans-serif" font-size="40" xml:space="preserve" textLength="332.8" lengthAdjust="spacingAndGlyphs">NBR/NG-3  (TGA)</text>
<line x1="379.0" y1="927.5" x2="456.0" y2="927.5" stroke="#000" stroke-width="3.6"/>
<line x1="379.0" y1="978.2" x2="440.0" y2="978.2" stroke="#f00" stroke-width="3.6" stroke-dasharray="18.5 21.3"/>
<path d="M380.2 1028.7H445.3" stroke="#00f" stroke-width="10.4" stroke-linecap="round" stroke-dasharray="0 21.53" fill="none"/>
<text x="463.5" y="939.8" font-family="'Liberation Sans', Arial, sans-serif" font-size="40" xml:space="preserve" textLength="230.0" lengthAdjust="spacingAndGlyphs">KB-1  (DSC)</text>
<text x="464.8" y="989.6" font-family="'Liberation Sans', Arial, sans-serif" font-size="40" xml:space="preserve" textLength="231.2" lengthAdjust="spacingAndGlyphs">KB-2  (DSC)</text>
<text x="465.6" y="1040.6" font-family="'Liberation Sans', Arial, sans-serif" font-size="40" xml:space="preserve" textLength="334.4" lengthAdjust="spacingAndGlyphs">NBR/NG-3  (DSC)</text>
<text transform="translate(66.4,453.6) rotate(-90)" font-family="'Liberation Sans', Arial, sans-serif" font-size="40" font-weight="bold" textLength="137" lengthAdjust="spacingAndGlyphs">Weight</text>
<text transform="translate(66.4,316.6) rotate(-90)" font-family="'Liberation Sans', Arial, sans-serif" font-size="40" xml:space="preserve" textLength="75.5" lengthAdjust="spacingAndGlyphs"> (%)</text>
<text transform="translate(112.2,1413.2) rotate(-90)" font-family="'Liberation Sans', Arial, sans-serif" font-size="40" font-weight="bold" textLength="294.9" lengthAdjust="spacingAndGlyphs">Heat flow (mW)</text>
<text transform="translate(112.4,1072.5) rotate(-90)" font-family="'Liberation Serif', 'Times New Roman', serif" font-size="43.5" font-weight="bold" textLength="202.6" lengthAdjust="spacingAndGlyphs">Endo<tspan font-family="'Noto Sans CJK SC', sans-serif" font-weight="300">&#8596;</tspan>Exo</text>
<text transform="translate(113.9,856) rotate(-90)" font-family="'Noto Sans CJK SC', sans-serif" font-size="40" font-weight="300">)</text>
<text transform="translate(867.6,1551.7) scale(1,1.15)" font-family="'Liberation Sans', Arial, sans-serif" font-size="40" font-weight="bold" textLength="261.2" lengthAdjust="spacingAndGlyphs">Temperature</text>
<text x="1140.6" y="1551.7" font-family="'Liberation Sans', 'Noto Sans CJK SC', sans-serif" font-size="41.5" font-weight="300" textLength="73.5" lengthAdjust="spacingAndGlyphs">(&#8451;)</text>
</svg>
</body></html>
